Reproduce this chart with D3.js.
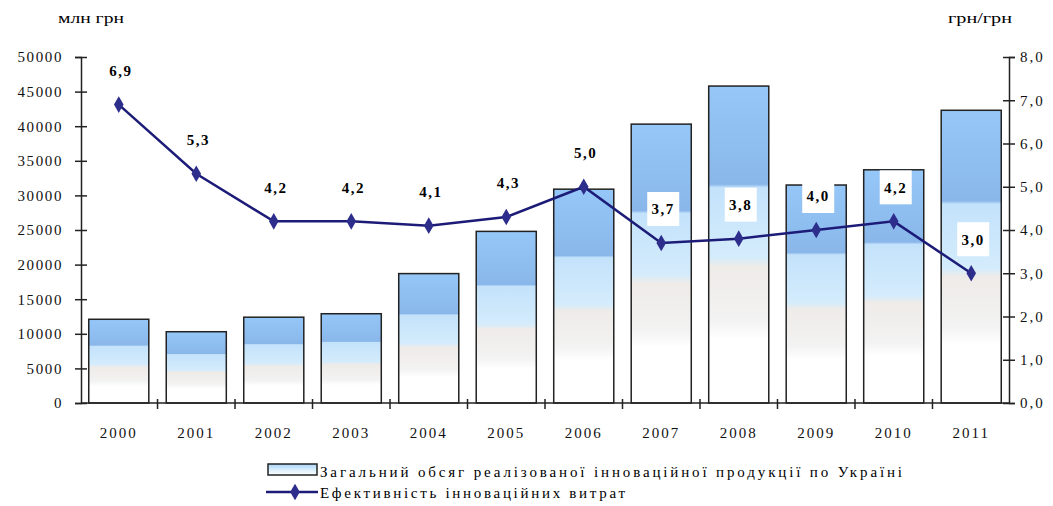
<!DOCTYPE html>
<html>
<head>
<meta charset="utf-8">
<script src="https://cdn.jsdelivr.net/npm/d3@7"></script>
<style>
  body { margin: 0; background: #fff; }
</style>
</head>
<body>
<svg id="chart" width="1053" height="506"></svg>
<script>
// data
const years = ["2000","2001","2002","2003","2004","2005","2006","2007","2008","2009","2010","2011"];
const volume = [12100, 10300, 12400, 12900, 18700, 24800, 30900, 40300, 45800, 31500, 33700, 42300];
const efficiency = [6.9, 5.3, 4.2, 4.2, 4.1, 4.3, 5.0, 3.7, 3.8, 4.0, 4.2, 3.0];
const leftTicks = [0, 5000, 10000, 15000, 20000, 25000, 30000, 35000, 40000, 45000, 50000];
const rightTicks = [0, 1, 2, 3, 4, 5, 6, 7, 8];
const legendLabels = ["Загальний обсяг реалізованої інноваційної продукції по Україні", "Ефективність інноваційних витрат"];

const FONT = '"Liberation Serif", "Times New Roman", "DejaVu Serif", serif';
const svg = d3.select('#chart');
const plotL = 81, plotR = 1009, plotT = 57, plotB = 403;

const x = d3.scaleBand().domain(years).range([plotL, plotR]).paddingInner(0.225).paddingOuter(0.1);
const yL = d3.scaleLinear().domain([0, 50000]).range([plotB, plotT]);
const yR = d3.scaleLinear().domain([0, 8]).range([plotB, plotT]);

// gradient for bars
const defs = svg.append('defs');
const grad = defs.append('linearGradient').attr('id', 'barGrad')
  .attr('x1', 0).attr('y1', 0).attr('x2', 0).attr('y2', 1);
[[0, '#95c7f8'], [0.31, '#8ab7ea'], [0.32, '#c3e2fb'], [0.54, '#d4ecfc'], [0.57, '#eeebe8'],
 [0.74, '#f3f3f3'], [0.8, '#ffffff'], [1, '#ffffff']]
  .forEach(s => grad.append('stop').attr('offset', s[0]).attr('stop-color', s[1]));

const legGrad = defs.append('linearGradient').attr('id', 'legGrad')
  .attr('x1', 0).attr('y1', 0).attr('x2', 0).attr('y2', 1);
[[0, '#a9d2f8'], [0.5, '#d6edfc'], [1, '#ffffff']]
  .forEach(s => legGrad.append('stop').attr('offset', s[0]).attr('stop-color', s[1]));

// bars
svg.selectAll('rect.bar')
  .data(volume)
  .enter()
  .append('rect')
  .attr('class', 'bar')
  .attr('x', (d, i) => x(years[i]))
  .attr('y', d => yL(d))
  .attr('width', x.bandwidth())
  .attr('height', d => plotB - yL(d))
  .attr('fill', 'url(#barGrad)')
  .attr('stroke', '#222')
  .attr('stroke-width', 1.5);

// axes
const axL = svg.append('g').attr('transform', `translate(${plotL},0)`)
  .call(d3.axisLeft(yL).tickValues(leftTicks).tickSize(6).tickFormat(d => d));
axL.selectAll('.tick line').attr('x1', -6).attr('x2', 6);
const axR = svg.append('g').attr('transform', `translate(${plotR},0)`)
  .call(d3.axisRight(yR).tickValues(rightTicks).tickSize(6).tickFormat(d => d.toFixed(1).replace('.', ',')));
axR.selectAll('.tick line').attr('x1', -6).attr('x2', 6);
const axB = svg.append('g').attr('transform', `translate(0,${plotB})`)
  .call(d3.axisBottom(x).tickSize(0).tickPadding(24));

// band boundary ticks on x axis
const step = x.step();
const bounds = d3.range(1, years.length).map(i => x(years[i]) - step * x.paddingInner() / 2);
svg.selectAll('line.xt')
  .data(bounds)
  .enter()
  .append('line')
  .attr('x1', d => d).attr('x2', d => d)
  .attr('y1', plotB - 4).attr('y2', plotB + 6)
  .attr('stroke', '#222').attr('stroke-width', 1.5);

[axL, axR, axB].forEach(a => {
  a.attr('font-family', FONT);
  a.selectAll('.domain').attr('stroke', '#222').attr('stroke-width', 1.5);
  a.selectAll('.tick line').attr('stroke', '#222').attr('stroke-width', 1.5);
  a.selectAll('text').style('font-family', FONT).style('font-size', '15px').attr('fill', '#111');
});
axL.selectAll('text').attr('x', -18).style('letter-spacing', '1.6px');
axR.selectAll('text').attr('x', 11).style('letter-spacing', '2px');
axB.selectAll('text').style('letter-spacing', '2px');
axB.select('.domain').attr('d', `M${plotL},0H${plotR}`);

// line series
const line = d3.line()
  .x((d, i) => x(years[i]) + x.bandwidth() / 2)
  .y(d => yR(d));
svg.append('path')
  .datum(efficiency)
  .attr('d', line)
  .attr('fill', 'none')
  .attr('stroke', '#1c1c78')
  .attr('stroke-width', 2.5);

const diamond = d3.symbol().type(d3.symbolDiamond).size(80);
svg.selectAll('path.mk')
  .data(efficiency)
  .enter()
  .append('path')
  .attr('class', 'mk')
  .attr('d', diamond)
  .attr('transform', (d, i) => `translate(${x(years[i]) + x.bandwidth() / 2},${yR(d)})`)
  .attr('fill', '#2d2d8c');

// value labels
const lab = svg.selectAll('g.lab')
  .data(efficiency)
  .enter()
  .append('g')
  .attr('class', 'lab')
  .attr('transform', (d, i) => `translate(${x(years[i]) + x.bandwidth() / 2 + 2},${yR(d) - 34})`);
lab.append('rect')
  .attr('x', -16).attr('y', -17).attr('width', 32).attr('height', 34)
  .attr('fill', '#fff');
lab.append('text')
  .attr('text-anchor', 'middle')
  .attr('dy', '0.35em')
  .style('font-family', FONT)
  .style('font-size', '15px')
  .style('font-weight', 'bold')
  .style('letter-spacing', '1.5px')
  .text(d => d.toFixed(1).replace('.', ','));

// axis titles
svg.append('text').attr('x', 58).attr('y', 23)
  .attr('textLength', 66).attr('lengthAdjust', 'spacingAndGlyphs')
  .style('font-family', FONT).style('font-size', '14px').text('млн грн');
svg.append('text').attr('x', 948).attr('y', 23)
  .attr('textLength', 64).attr('lengthAdjust', 'spacingAndGlyphs')
  .style('font-family', FONT).style('font-size', '14px').text('грн/грн');

// legend
svg.append('rect').attr('x', 268).attr('y', 464).attr('width', 49).attr('height', 11)
  .attr('fill', 'url(#legGrad)').attr('stroke', '#222').attr('stroke-width', 1.5);
svg.append('text').attr('x', 320).attr('y', 477)
  .attr('textLength', 582).attr('lengthAdjust', 'spacing')
  .style('font-family', FONT).style('font-size', '15px').text(legendLabels[0]);
svg.append('line').attr('x1', 266).attr('x2', 318).attr('y1', 492).attr('y2', 492)
  .attr('stroke', '#1c1c78').attr('stroke-width', 2.5);
svg.append('path').attr('d', diamond).attr('transform', 'translate(295,492)').attr('fill', '#2d2d8c');
svg.append('text').attr('x', 320).attr('y', 498)
  .attr('textLength', 305).attr('lengthAdjust', 'spacing')
  .style('font-family', FONT).style('font-size', '15px').text(legendLabels[1]);
</script>
</body>
</html>
